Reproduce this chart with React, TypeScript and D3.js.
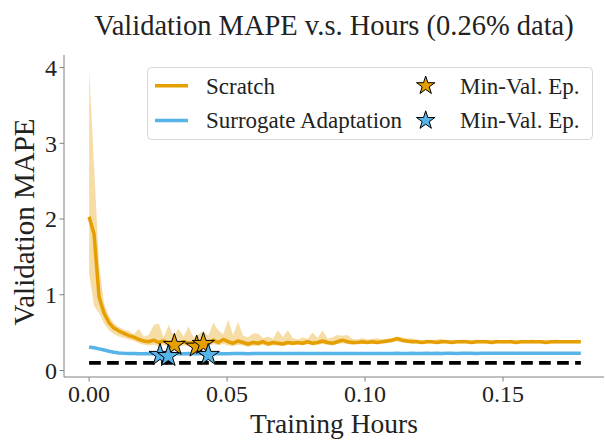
import React from 'react';
import * as d3 from 'd3';

// hours between two validation evaluations
const HOURS_PER_EPOCH = 0.0018;

const SCRATCH_MEAN = [
  2.03, 1.8, 0.97, 0.76, 0.63, 0.56, 0.52, 0.49, 0.46, 0.44,
  0.41, 0.39, 0.38, 0.4, 0.37, 0.39, 0.36, 0.38, 0.35, 0.38,
  0.36, 0.37, 0.35, 0.39, 0.36, 0.4, 0.37, 0.41, 0.38, 0.36,
  0.39, 0.37, 0.35, 0.37, 0.36, 0.38, 0.35, 0.37, 0.36, 0.35,
  0.37, 0.36, 0.37, 0.36, 0.38, 0.36, 0.37, 0.39, 0.37, 0.36,
  0.38, 0.4, 0.38, 0.37, 0.37, 0.38, 0.37, 0.38, 0.37, 0.38,
  0.39, 0.4, 0.42, 0.4, 0.39, 0.38, 0.38, 0.37, 0.38, 0.38,
  0.37, 0.38, 0.38, 0.37, 0.38, 0.38, 0.38, 0.37, 0.38, 0.38,
  0.38, 0.37, 0.38, 0.38, 0.38, 0.38, 0.37, 0.38, 0.38, 0.38,
  0.38, 0.38, 0.37, 0.38, 0.38, 0.38, 0.38, 0.38, 0.38, 0.38,
];

const SCRATCH_UPPER = [
  3.97, 2.7, 1.4, 0.88, 0.72, 0.62, 0.57, 0.54, 0.52, 0.48,
  0.55, 0.45, 0.47, 0.6, 0.62, 0.44, 0.6, 0.46, 0.55, 0.45,
  0.58, 0.44, 0.48, 0.52, 0.46, 0.63, 0.53, 0.48, 0.67, 0.47,
  0.64, 0.46, 0.44, 0.49, 0.49, 0.43, 0.45, 0.42, 0.53, 0.44,
  0.53, 0.43, 0.41, 0.44, 0.42, 0.5, 0.43, 0.53, 0.42, 0.44,
  0.47, 0.46, 0.47, 0.42, 0.41, 0.43, 0.41, 0.42, 0.43, 0.41,
  0.42, 0.43, 0.45, 0.44, 0.42, 0.43, 0.41, 0.4, 0.41, 0.4,
  0.41, 0.42, 0.4, 0.41, 0.4, 0.41, 0.4, 0.4, 0.41, 0.4,
  0.4, 0.4, 0.41, 0.4, 0.4, 0.41, 0.4, 0.4, 0.4, 0.41,
  0.4, 0.4, 0.4, 0.4, 0.41, 0.4, 0.4, 0.4, 0.4, 0.4,
];

const SCRATCH_LOWER = [
  1.28, 0.85, 0.76, 0.62, 0.53, 0.48, 0.45, 0.43, 0.41, 0.39,
  0.36, 0.34, 0.33, 0.34, 0.32, 0.34, 0.32, 0.33, 0.31, 0.33,
  0.32, 0.33, 0.31, 0.34, 0.32, 0.35, 0.33, 0.35, 0.33, 0.32,
  0.34, 0.33, 0.31, 0.33, 0.32, 0.34, 0.32, 0.33, 0.33, 0.32,
  0.34, 0.33, 0.34, 0.33, 0.35, 0.33, 0.34, 0.35, 0.34, 0.33,
  0.35, 0.36, 0.35, 0.34, 0.35, 0.35, 0.35, 0.36, 0.35, 0.36,
  0.36, 0.37, 0.38, 0.37, 0.36, 0.36, 0.36, 0.35, 0.36, 0.36,
  0.35, 0.36, 0.36, 0.35, 0.36, 0.36, 0.36, 0.36, 0.36, 0.36,
  0.36, 0.36, 0.36, 0.36, 0.36, 0.36, 0.36, 0.36, 0.36, 0.36,
  0.36, 0.36, 0.36, 0.36, 0.36, 0.36, 0.36, 0.36, 0.36, 0.36,
];

const SURROGATE_MEAN = [
  0.31, 0.3, 0.285, 0.27, 0.255, 0.24, 0.232, 0.227, 0.224, 0.223,
  0.222, 0.222, 0.223, 0.222, 0.222, 0.223, 0.222, 0.223, 0.222, 0.222,
  0.223, 0.222, 0.222, 0.223, 0.223, 0.222, 0.223, 0.222, 0.222, 0.223,
  0.224, 0.223, 0.222, 0.223, 0.224, 0.223, 0.223, 0.224, 0.223, 0.224,
  0.224, 0.223, 0.224, 0.224, 0.223, 0.224, 0.225, 0.224, 0.224, 0.225,
  0.224, 0.225, 0.225, 0.224, 0.225, 0.225, 0.225, 0.224, 0.225, 0.225,
  0.225, 0.225, 0.226, 0.225, 0.225, 0.226, 0.225, 0.225, 0.226, 0.225,
  0.226, 0.225, 0.226, 0.226, 0.225, 0.226, 0.226, 0.226, 0.225, 0.226,
  0.226, 0.226, 0.226, 0.226, 0.226, 0.226, 0.226, 0.226, 0.226, 0.226,
  0.226, 0.226, 0.226, 0.226, 0.226, 0.226, 0.226, 0.226, 0.226, 0.226,
];

// best epochs of the individual runs: [hours, validation MAPE]
const SCRATCH_MIN: [number, number][] = [
  [0.0309, 0.337],
  [0.039, 0.314],
  [0.0414, 0.35],
];
const SURROGATE_MIN: [number, number][] = [
  [0.0257, 0.205],
  [0.0287, 0.19],
  [0.0432, 0.205],
];

const TARGET_MAPE = 0.1;

const X_TICKS = [0, 0.05, 0.1, 0.15];
const Y_TICKS = [0, 1, 2, 3, 4];

const ORANGE = '#E69F00';
const BLUE = '#56B4E9';
const FONT = '"Liberation Serif", "Times New Roman", serif';

export default function App() {
  const x = d3.scaleLinear().domain([-0.0091, 0.1866]).range([64, 604]);
  const y = d3.scaleLinear().domain([-0.086, 4.166]).range([377, 55]);

  const hours = SCRATCH_MEAN.map((_, i) => i * HOURS_PER_EPOCH);
  const lastHour = hours[hours.length - 1];

  const band = d3
    .area<number>()
    .x((_, i) => x(hours[i]))
    .y0((_, i) => y(SCRATCH_LOWER[i]))
    .y1((_, i) => y(SCRATCH_UPPER[i]));
  const line = (vals: number[]) =>
    d3
      .line<number>()
      .x((_, i) => x(hours[i]))
      .y(d => y(d))(vals) || '';

  const star = d3.symbol().type(d3.symbolStar);
  const plotStar = star.size(150)() || '';
  const legendStar = star.size(105)() || '';

  return (
    <svg
      width={605}
      height={440}
      style={{ position: 'absolute', left: 0, top: 0, background: '#fff' }}
      fontFamily={FONT}
    >
      <text x={334} y={35} textAnchor="middle" fontSize={28.5} fill="#222">
        Validation MAPE v.s. Hours (0.26% data)
      </text>

      {/* series */}
      <path d={band(SCRATCH_MEAN) || ''} fill={ORANGE} fillOpacity={0.35} stroke="none" />
      <path d={line(SCRATCH_MEAN)} fill="none" stroke={ORANGE} strokeWidth={3.5} strokeLinejoin="round" />
      <path d={line(SURROGATE_MEAN)} fill="none" stroke={BLUE} strokeWidth={3.5} strokeLinejoin="round" />
      <line
        x1={x(0)}
        x2={x(lastHour)}
        y1={y(TARGET_MAPE)}
        y2={y(TARGET_MAPE)}
        stroke="#000"
        strokeWidth={3.8}
        strokeDasharray="11.7 6.3"
      />
      {SCRATCH_MIN.map(([h, v], i) => (
        <path key={'o' + i} d={plotStar} transform={`translate(${x(h)},${y(v)})`} fill={ORANGE} stroke="#000" strokeWidth={1} />
      ))}
      {SURROGATE_MIN.map(([h, v], i) => (
        <path key={'b' + i} d={plotStar} transform={`translate(${x(h)},${y(v)})`} fill={BLUE} stroke="#000" strokeWidth={1} />
      ))}

      {/* axes */}
      <line x1={64} x2={64} y1={55} y2={377} stroke="#808080" strokeWidth={1} />
      <line x1={64} x2={604} y1={377} y2={377} stroke="#808080" strokeWidth={1} />
      {Y_TICKS.map(t => (
        <g key={'y' + t} transform={`translate(0,${y(t)})`}>
          <line x1={59.5} x2={64} stroke="#808080" />
          <text x={57} dy="0.35em" textAnchor="end" fontSize={24} fill="#222">
            {t}
          </text>
        </g>
      ))}
      {X_TICKS.map(t => (
        <g key={'x' + t} transform={`translate(${x(t)},0)`}>
          <line y1={377} y2={381.5} stroke="#808080" />
          <text y={402} textAnchor="middle" fontSize={24} fill="#222">
            {d3.format('.2f')(t)}
          </text>
        </g>
      ))}
      <text x={334} y={433} textAnchor="middle" fontSize={27.5} fill="#222">
        Training Hours
      </text>
      <text transform="translate(34,222) rotate(-90)" textAnchor="middle" fontSize={29} fill="#222">
        Validation MAPE
      </text>

      {/* legend */}
      <rect x={147.5} y={67.5} width={445} height={72} rx={4} fill="#fff" fillOpacity={0.8} stroke="#d6d6d6" />
      <line x1={155} x2={188} y1={85.7} y2={85.7} stroke={ORANGE} strokeWidth={3.5} />
      <line x1={155} x2={188} y1={120.5} y2={120.5} stroke={BLUE} strokeWidth={3.5} />
      <text x={206} y={93.5} fontSize={23} fill="#222">Scratch</text>
      <text x={206} y={128.3} fontSize={23} fill="#222">Surrogate Adaptation</text>
      <path d={legendStar} transform="translate(425.7,85.7)" fill={ORANGE} stroke="#000" strokeWidth={1} />
      <path d={legendStar} transform="translate(425.7,120.5)" fill={BLUE} stroke="#000" strokeWidth={1} />
      <text x={460} y={93.5} fontSize={23} fill="#222">Min-Val. Ep.</text>
      <text x={460} y={128.3} fontSize={23} fill="#222">Min-Val. Ep.</text>
    </svg>
  );
}
